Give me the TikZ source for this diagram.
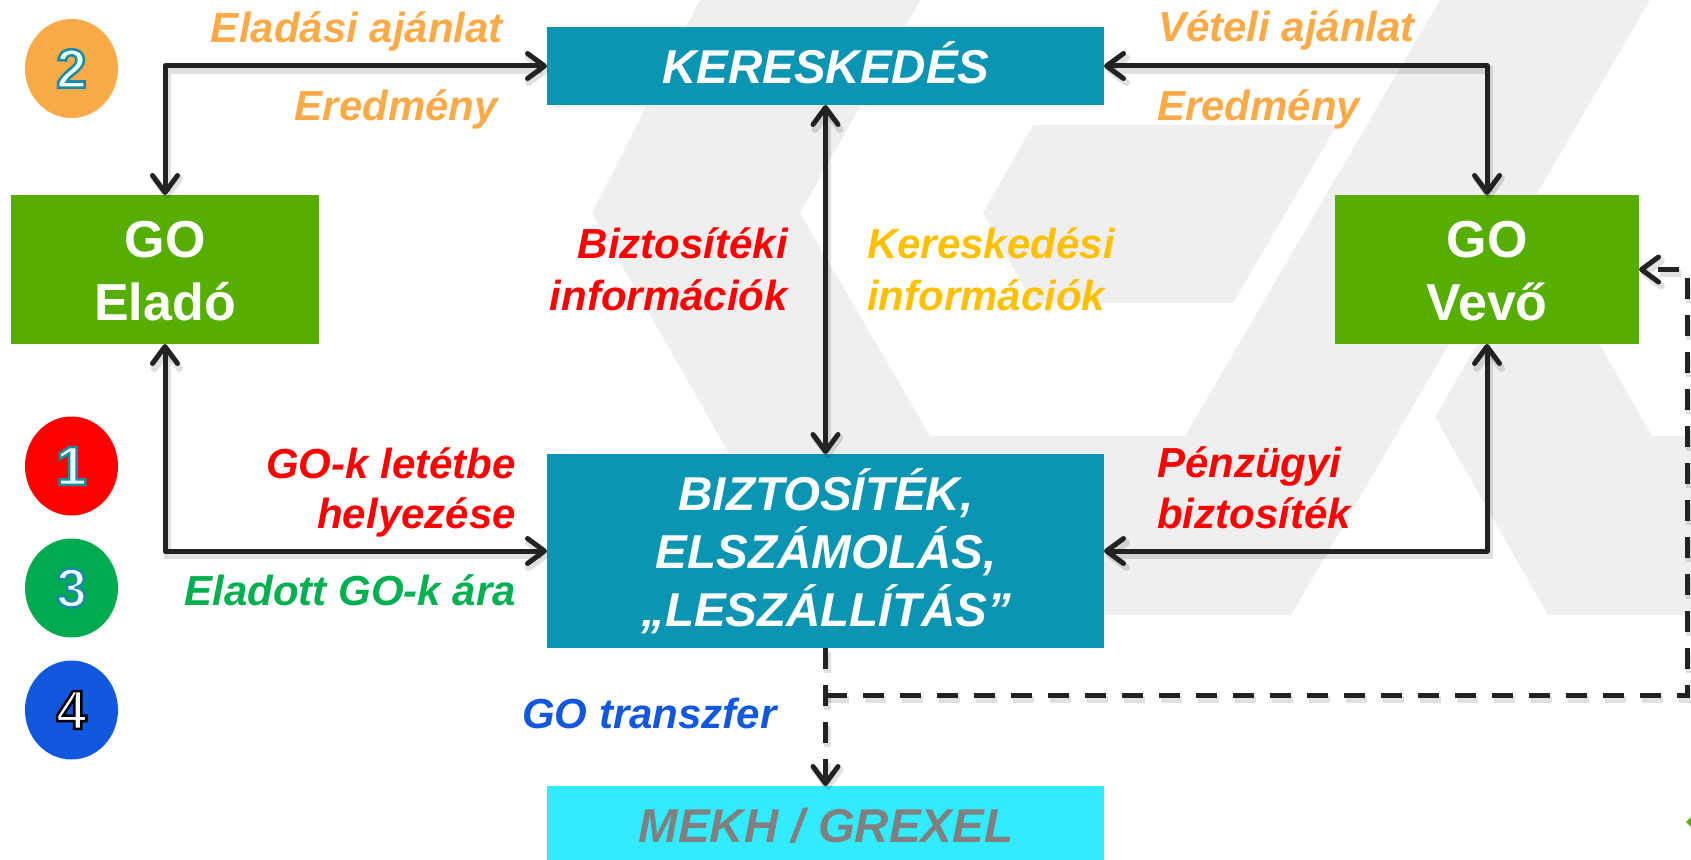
\documentclass[tikz,border=0pt]{standalone}
\usepackage{fontspec}
\setmainfont{Liberation Sans}
\usetikzlibrary{arrows.meta,shapes.geometric}
\definecolor{boxteal}{RGB}{12,149,178}
\definecolor{boxgreen}{RGB}{85,174,0}
\definecolor{boxcyan}{RGB}{51,235,255}
\definecolor{lblorange}{RGB}{250,170,70}
\definecolor{lblyellow}{RGB}{255,192,0}
\definecolor{lblred}{RGB}{255,0,0}
\definecolor{lblgreen}{RGB}{0,176,80}
\definecolor{lblblue}{RGB}{18,88,220}
\definecolor{lblgray}{RGB}{128,128,128}
\definecolor{bggray}{RGB}{239,239,239}
\definecolor{arrowc}{RGB}{34,34,34}
\definecolor{numfill}{RGB}{235,250,252}
\definecolor{circgreen}{RGB}{0,170,80}
% digit with coloured outline: #1 = stroke colour as "r g b", #2 = fill colour, #3 = text
\newcommand{\olt}[3]{{\color{#2}\special{pdf:literal direct 2 Tr 2.5 w #1 RG}#3\special{pdf:literal direct 0 Tr}}}
\begin{document}
\begin{tikzpicture}[x=1pt,y=-1pt,
  box/.style={rectangle,inner sep=0pt,outer sep=0pt,draw=none},
  lbl/.style={inner sep=0pt,font=\fontsize{42}{48}\selectfont\bfseries\itshape},
  boxtxt/.style={inner sep=0pt,text=white,font=\fontsize{47.5}{56}\selectfont\bfseries\itshape},
  gotxt/.style={inner sep=0pt,text=white,font=\fontsize{52}{60}\selectfont\bfseries},
  numc/.style={ellipse,inner sep=0pt,minimum width=93pt,minimum height=99pt,font=\fontsize{55}{60}\selectfont\bfseries},
  barb/.tip={Straight Barb[length=17pt,width=25pt,round]},
  shade/.style={preaction={draw=black,opacity=0.12,line width=7pt,transform canvas={shift={(2pt,-4pt)}}}},
  dshade/.style={preaction={draw=black,opacity=0.12,line width=7pt,dash pattern=on 21pt off 16pt,transform canvas={shift={(2pt,-4pt)}}}},
  conn/.style={shade,draw=arrowc,line width=5pt,line join=round,barb-barb},
  dconn/.style={dshade,draw=arrowc,line width=5pt,dash pattern=on 21pt off 16pt,-barb}
]
\useasboundingbox (0,0) rectangle (1691,859);
\fill[white] (0,0) rectangle (1691,859);
% watermark
\fill[bggray] (700,0) -- (920,0) -- (800,213) -- (930,436) -- (1185,436) -- (1440,0) -- (1650,0) -- (1291,615) -- (821,615) -- (592,213) -- cycle;
\fill[bggray] (983,213) -- (1033,125) -- (1337,125) -- (1233,303) -- (1033,303) -- cycle;
\fill[bggray] (1435,417) -- (1539,238) -- (1652,436) -- (1691,436) -- (1691,615) -- (1548,615) -- cycle;
\fill[boxgreen] (1686,822) -- (1691,817) -- (1691,827) -- cycle;

% boxes
\node[box,fill=boxteal,minimum width=557pt,minimum height=78pt] (trade) at (825.5,66) {};
\node[box,fill=boxgreen,minimum width=308pt,minimum height=149pt] (seller) at (165,269.5) {};
\node[box,fill=boxgreen,minimum width=304pt,minimum height=149pt] (buyer) at (1487,269.5) {};
\node[box,fill=boxteal,minimum width=557pt,minimum height=194pt] (clear) at (825.5,551) {};
\node[box,fill=boxcyan,minimum width=557pt,minimum height=76pt] (mekh) at (825.5,824) {};

% box texts
\node[boxtxt,anchor=base] (tradet) at (826,83) {KERESKEDÉS};
\node[gotxt,anchor=base] (sellert1) at (165,257) {GO};
\node[gotxt,anchor=base] (sellert2) at (165,320) {Eladó};
\node[gotxt,anchor=base] (buyert1) at (1487,257) {GO};
\node[gotxt,anchor=base] (buyert2) at (1487,320) {Vevő};
\node[boxtxt,anchor=base] (cleart1) at (826,510) {BIZTOSÍTÉK,};
\node[boxtxt,anchor=base] (cleart2) at (826,568) {ELSZÁMOLÁS,};
\node[boxtxt,anchor=base] (cleart3) at (826,626) {„LESZÁLLÍTÁS”};
\node[boxtxt,anchor=base,text=lblgray] (mekht) at (826,842) {MEKH / GREXEL};

% connectors
\draw[conn] (seller.north) |- (trade.west);
\draw[conn] (buyer.north) |- (trade.east);
\draw[conn] (trade.south) -- (clear.north);
\draw[conn] (seller.south) |- (clear.west);
\draw[conn] (buyer.south) |- (clear.east);
\coordinate (j) at (825.5,695);
\coordinate (rt) at (1687,695);
\draw[dconn] (clear.south) -- (mekh.north);
\draw[dconn] (j) -- (rt) |- (buyer.east);

% labels
\node[lbl,text=lblorange,anchor=base east] (l1) at (503,43) {Eladási ajánlat};
\node[lbl,text=lblorange,anchor=base east] (l2) at (498,120) {Eredmény};
\node[lbl,text=lblorange,anchor=base west] (l3) at (1158,42) {Vételi ajánlat};
\node[lbl,text=lblorange,anchor=base west] (l4) at (1157,120) {Eredmény};
\node[lbl,text=lblred,anchor=base east] (l5) at (788,258) {Biztosítéki};
\node[lbl,text=lblred,anchor=base east] (l6) at (788,310) {információk};
\node[lbl,text=lblyellow,anchor=base west] (l7) at (867,258) {Kereskedési};
\node[lbl,text=lblyellow,anchor=base west] (l8) at (867,310) {információk};
\node[lbl,text=lblred,anchor=base east] (l9) at (516,478) {GO-k letétbe};
\node[lbl,text=lblred,anchor=base east] (l10) at (516,528) {helyezése};
\node[lbl,text=lblgreen,anchor=base east] (l11) at (516,605) {Eladott GO-k ára};
\node[lbl,text=lblred,anchor=base west] (l12) at (1157,477) {Pénzügyi};
\node[lbl,text=lblred,anchor=base west] (l13) at (1157,528) {biztosíték};
\node[lbl,text=lblblue,anchor=base west] (l14) at (522,728) {GO transzfer};

% number circles (drawn last)
\node[numc,fill=lblorange] (c2) at (71.5,68.5) {\olt{0.1 0.55 0.63}{numfill}{2}};
\node[numc,fill=lblred] (c1) at (71.5,466) {\olt{0.1 0.55 0.63}{numfill}{1}};
\node[numc,fill=circgreen] (c3) at (71.5,588) {\olt{0.1 0.55 0.63}{numfill}{3}};
\node[numc,fill=lblblue] (c4) at (71.5,710) {\olt{0 0 0}{white}{4}};
\end{tikzpicture}
\end{document}
